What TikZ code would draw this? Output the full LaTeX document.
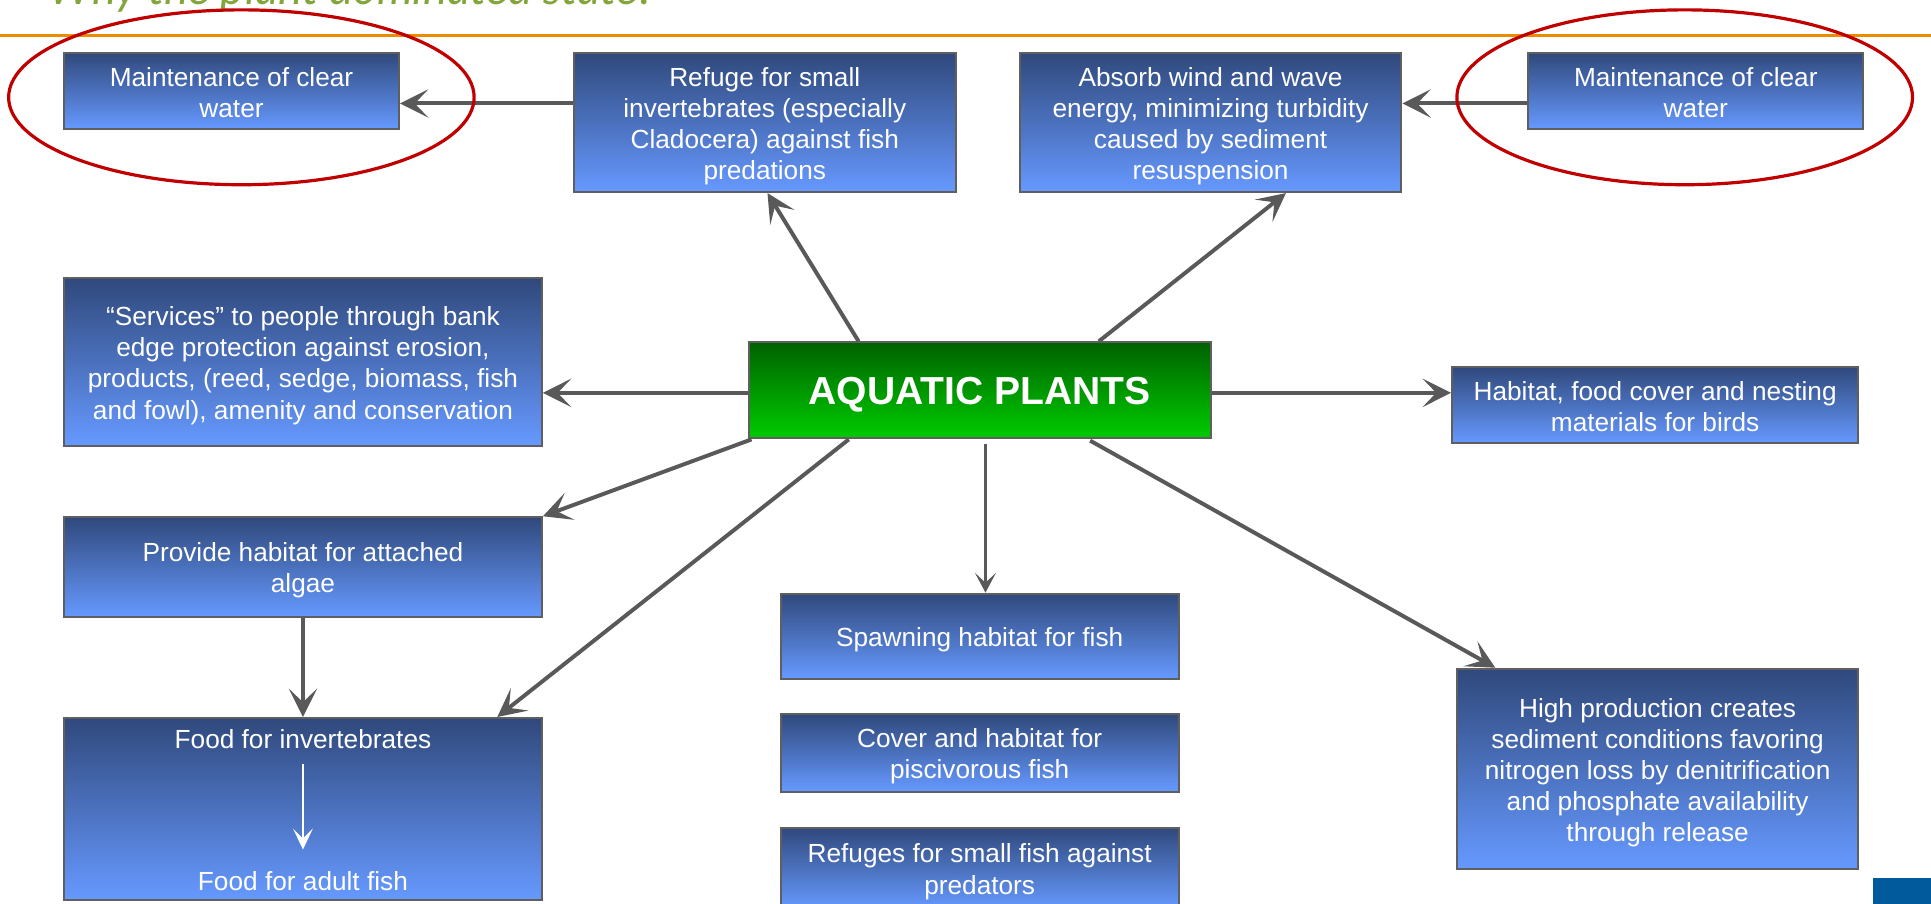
\documentclass[tikz,border=0pt]{standalone}
\usepackage{fontspec}
\setmainfont{Liberation Sans}
\newfontfamily\titlefont{Lato}
\usetikzlibrary{arrows.meta,calc,shapes.geometric}
\definecolor{linegray}{RGB}{89,89,89}
\definecolor{boxedge}{RGB}{95,95,95}
\definecolor{boxtop}{RGB}{48,73,124}
\definecolor{boxbot}{RGB}{102,153,255}
\definecolor{greentop}{RGB}{0,98,0}
\definecolor{greenbot}{RGB}{0,204,0}
\definecolor{ringred}{RGB}{192,0,0}
\definecolor{rulorange}{RGB}{235,140,0}
\definecolor{titlegreen}{RGB}{130,165,60}
\definecolor{cornerblue}{RGB}{0,90,156}
\newcommand\lstrut{\rule[-0.18em]{0pt}{1.08em}}
\newcommand\bstrut{\rule[-0.18em]{0pt}{1.17em}}
\newcommand\bt[1]{\bstrut#1\lstrut}
\tikzset{
  box/.style={rectangle, draw=boxedge, line width=0.8pt, top color=boxtop, bottom color=boxbot,
    text=white, align=center, inner sep=0pt, font=\fontsize{10.65pt}{12.65pt}\selectfont},
  mainbox/.style={rectangle, draw=boxedge, line width=0.8pt, top color=greentop, bottom color=greenbot,
    text=white, align=center, inner sep=0pt, font=\bfseries\fontsize{15.85pt}{18pt}\selectfont},
  plaintext/.style={inner sep=0pt, text=white, font=\fontsize{10.65pt}{12.65pt}\selectfont},
  conn/.style={draw=linegray, line width=1.6pt, -{Stealth[length=11.5pt, width=11.5pt, inset=5.5pt]}},
  thinconn/.style={draw=linegray, line width=0.95pt, -{Stealth[length=8pt, width=8.5pt, inset=4pt]}},
  whiteconn/.style={draw=white, line width=0.7pt, -{Stealth[length=8.5pt, width=8pt, inset=4pt]}},
  ring/.style={ellipse, draw=ringred, line width=1.3pt, inner sep=0pt},
}
\begin{document}
\begin{tikzpicture}[x=0.5pt,y=-0.5pt]
\clip (0,0) rectangle (1568,734);
\fill[white] (0,0) rectangle (1568,734);

% title (cut off at the top) and rule
\node[anchor=base west, inner sep=0pt, text=titlegreen,
  font=\titlefont\itshape\fontsize{18.5pt}{22pt}\selectfont] (title) at (39,4) {Why the plant dominated state?};
\draw[rulorange, line width=1.3pt] (0,29) -- (1568,29);

% boxes
\node[box, minimum width=136pt, minimum height=31pt] (b1) at (188,74) {\bt{Maintenance of clear\\water}};
\node[box, minimum width=136pt, minimum height=31pt] (b2) at (1377,74) {\bt{Maintenance of clear\\water}};
\node[box, minimum width=155pt, minimum height=56.5pt] (b3) at (983,99.5)
  {\bt{Absorb wind and wave\\energy, minimizing turbidity\\caused by sediment\\resuspension}};
\node[box, minimum width=155pt, minimum height=56.5pt] (b4) at (621,99.5)
  {\bt{Refuge for small\\invertebrates (especially\\Cladocera) against fish\\predations}};
\node[box, minimum width=194pt, minimum height=68pt] (b5) at (246,294)
  {\bt{“Services” to people through bank\\edge protection against erosion,\\products, (reed, sedge, biomass, fish\\and fowl), amenity and conservation}};
\node[mainbox, minimum width=187.5pt, minimum height=39pt] (aq) at (795.5,317) {\lstrut AQUATIC PLANTS\lstrut};
\node[box, minimum width=165pt, minimum height=31pt] (b6) at (1344,329)
  {\bt{Habitat, food cover and nesting\\materials for birds}};
\node[box, minimum width=194pt, minimum height=40.5pt] (b7) at (246,460.5)
  {\bt{Provide habitat for attached\\algae}};
\node[rectangle, draw=boxedge, line width=0.8pt, top color=boxtop, bottom color=boxbot,
  minimum width=194pt, minimum height=74pt] (b8) at (246,657) {};
\node[plaintext, anchor=base] (t1) at (246,607.7) {Food for invertebrates};
\node[plaintext, anchor=base] (t2) at (246,723.3) {Food for adult fish};
\node[box, minimum width=161.5pt, minimum height=34.5pt] (b9) at (795.5,516.5) {\bt{Spawning habitat for fish}};
\node[box, minimum width=161.5pt, minimum height=31.5pt] (b10) at (795.5,611.5) {\bt{Cover and habitat for\\piscivorous fish}};
\node[box, minimum width=161.5pt, minimum height=33pt] (b11) at (795.5,705) {\bt{Refuges for small fish against\\predators}};
\node[box, minimum width=163pt, minimum height=81.5pt] (b12) at (1346,624.5)
  {\bt{High production creates\\sediment conditions favoring\\nitrogen loss by denitrification\\and phosphate availability\\through release}};

\fill[cornerblue] (1521,713) rectangle (1570,736);

% connectors
\coordinate (s1) at ($(b4.west)+(0,-15.5)$);
\draw[conn] (s1) -- (s1 -| b1.east);
\coordinate (s2) at ($(b2.west)+(0,10)$);
\draw[conn] (s2) -- (s2 -| b3.east);
\draw[conn] ($(aq.north west)+(90,0)$) -- ($(b4.south west)+(158,0)$);
\draw[conn] ($(aq.north west)+(285,0)$) -- ($(b3.south west)+(217,0)$);
\coordinate (s3) at ($(aq.west)+(0,2)$);
\draw[conn] (s3) -- (s3 -| b5.east);
\draw[conn] (s3 -| aq.east) -- (s3 -| b6.west);
\draw[conn] ($(aq.south west)+(3,0)$) -- (b7.north east);
\draw[conn] ($(aq.south west)+(82,0)$) -- ($(b8.north east)+(-37,0)$);
\draw[thinconn] ($(aq.south west)+(193,4)$) -- ($(b9.north west)+(167,0)$);
\draw[conn] ($(aq.south west)+(278,1)$) -- ($(b12.north west)+(32,0)$);
\draw[conn] (b7.south) -- (b8.north);
\draw[whiteconn, shorten <=6pt, shorten >=8.8pt] (t1.south) -- (t2.north);

% red rings
\node[ring, minimum width=189pt, minimum height=71pt] (e1) at (196,79) {};
\node[ring, minimum width=185pt, minimum height=71pt] (e2) at (1368,79) {};
\end{tikzpicture}
\end{document}
